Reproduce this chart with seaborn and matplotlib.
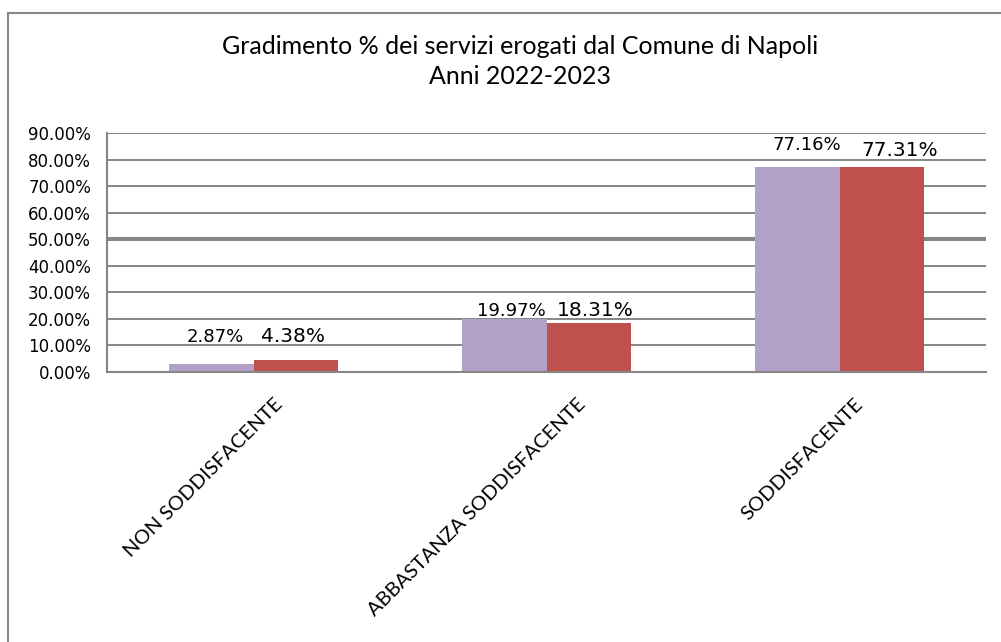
import pandas as pd
import seaborn as sns
import matplotlib.pyplot as plt
from matplotlib.patches import Rectangle
from matplotlib.transforms import ScaledTranslation
from matplotlib.ticker import FixedLocator, FuncFormatter

# dati
categorie = ['NON SODDISFACENTE', 'ABBASTANZA SODDISFACENTE', 'SODDISFACENTE']
anni = ['2022', '2023']
val_2022 = [2.87, 19.97, 77.16]
val_2023 = [4.38, 18.31, 77.31]
y_ticks = [0, 10, 20, 30, 40, 50, 60, 70, 80, 90]

df = pd.DataFrame({
    'categoria': categorie * 2,
    'anno': [anni[0]] * 3 + [anni[1]] * 3,
    'valore': val_2022 + val_2023,
})

GREY = '#868686'
colori = ['#B1A0C7', '#C0504D']

sns.set_style('white')
plt.rcParams['font.family'] = ['DejaVu Sans']

fig = plt.figure(figsize=(10.01, 6.42), dpi=100)
ax = fig.add_axes([107 / 1001, 1 - 372 / 642, (986 - 107) / 1001, (372 - 133) / 642])

sns.barplot(data=df, x='categoria', y='valore', hue='anno', palette=colori,
            width=0.574, gap=0, saturation=1, legend=False, linewidth=0,
            edgecolor='none', ax=ax)

ax.set_ylim(0, 90)
ax.set_xlim(-0.5, 2.5)
ax.set_xlabel('')
ax.set_ylabel('')
ax.yaxis.set_major_locator(FixedLocator(y_ticks))
ax.yaxis.set_major_formatter(FuncFormatter(lambda v, p: f'{v:.2f}%'))
ax.tick_params(axis='y', length=6.5, width=1.2, color=GREY, pad=5, labelsize=12, labelcolor='black')

ax.yaxis.grid(True, color=GREY, linewidth=1.4)
ax.get_ygridlines()[5].set_linewidth(2.9)
ax.set_axisbelow(True)

for s in ['top', 'right']:
    ax.spines[s].set_visible(False)
for s in ['left', 'bottom']:
    ax.spines[s].set_color(GREY)
    ax.spines[s].set_linewidth(1.5)

# tacche tra le categorie
ax.xaxis.set_minor_locator(FixedLocator([-0.5, 0.5, 1.5, 2.5]))
ax.tick_params(axis='x', which='minor', length=5, width=1.2, color=GREY, direction='out')
ax.tick_params(axis='x', which='major', length=0, pad=21)
ax.set_xticks(range(len(categorie)))
ax.set_xticklabels(categorie, rotation=45, ha='right', va='center',
                   rotation_mode='anchor', fontsize=14.5, fontfamily='Lato', color='black')

# etichette dei valori
pads = [(4, 22, -3, 18), (7, 3, 7, 7), (9, 17, 18, 11)]
sizes = [13, 14.5]
for j, cont in enumerate(ax.containers):
    for i, bar in enumerate(cont):
        dx = pads[i][2 * j] * 0.72
        dy = pads[i][2 * j + 1] * 0.72
        ax.annotate(f'{bar.get_height():.2f}%',
                    (bar.get_x() + bar.get_width() / 2, bar.get_height()),
                    xytext=(dx, dy), textcoords='offset points',
                    ha='center', va='baseline', fontsize=sizes[j], color='black')

fig.text(520 / 1001, 1 - 47 / 642, 'Gradimento % dei servizi erogati dal Comune di Napoli',
         ha='center', va='center', fontsize=18, fontfamily='Lato', color='black')
fig.text(520 / 1001, 1 - 76 / 642, 'Anni 2022-2023',
         ha='center', va='center', fontsize=18, fontfamily='Lato', color='black')

# cornice del grafico
fig.patches.append(Rectangle((8 / 1001, -0.1), 1.2, 1 - 13 / 642 + 0.1,
                             transform=fig.transFigure, fill=False,
                             edgecolor=GREY, linewidth=1.5))

# spostamento delle etichette ruotate come in Excel
fig.canvas.draw()
for lab in ax.get_xticklabels():
    w = lab.get_window_extent().width
    lab.set_transform(lab.get_transform() + ScaledTranslation(0.16 * w / 100, 0, fig.dpi_scale_trans))

fig.savefig('out.png', dpi=100)
